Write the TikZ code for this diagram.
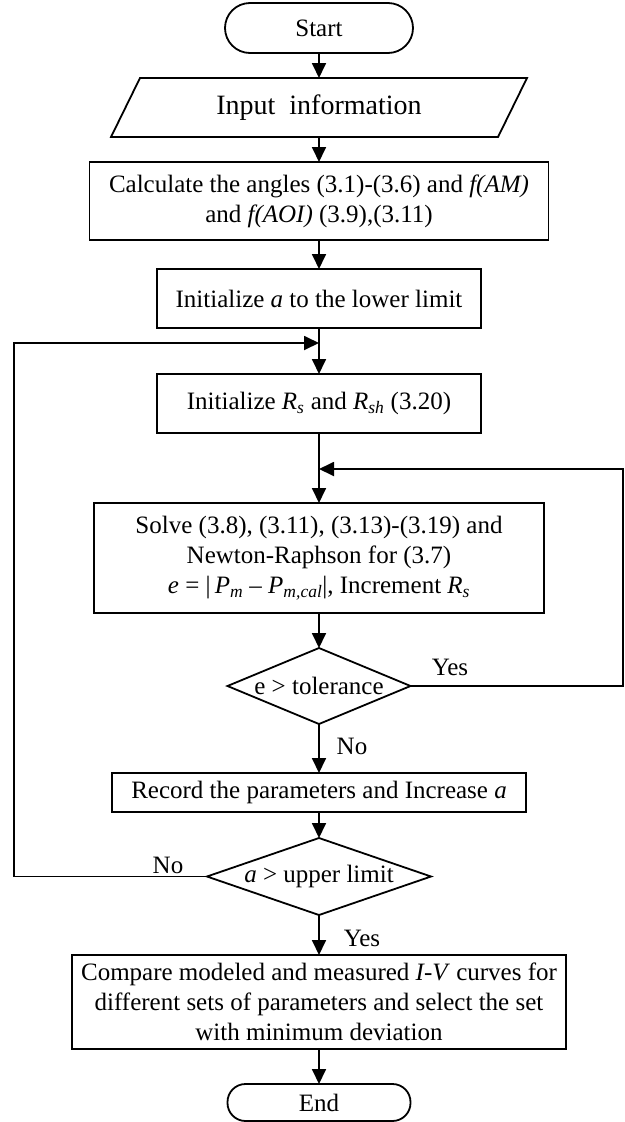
\documentclass[tikz,border=0pt]{standalone}
\usepackage{fontspec}
\setmainfont{Liberation Serif}
\usetikzlibrary{arrows.meta,shapes.geometric,calc}
\tikzset{
  every node/.style={inner sep=0pt, outer sep=0pt, font=\fontsize{25}{30}\selectfont},
  boxnode/.style={draw, line width=1.8pt, rectangle, align=center},
  termnode/.style={draw, line width=1.8pt, rectangle, align=center},
  decnode/.style={draw, line width=1.8pt, diamond},
  lbl/.style={font=\fontsize{25}{30}\selectfont},
  arr/.style={line width=1.8pt, -{Triangle[length=15pt,width=14pt]}},
  ln/.style={line width=1.8pt}
}
\begin{document}
\begin{tikzpicture}[x=1pt,y=-1pt]
\useasboundingbox (0,0) rectangle (624,1122);
% nodes
\node[termnode, minimum width=188pt, minimum height=50pt, rounded corners=25pt] (start) at (319,28) {Start};
\node[minimum width=416pt, minimum height=59pt, font=\fontsize{28}{32}\selectfont] (input) at (319,107.5) {Input\ \ information};
\draw[ln, line join=miter] (input.south west) -- ([xshift=-29pt]input.south east) -- (input.north east) -- ([xshift=29pt]input.north west) -- cycle;
\node[boxnode, minimum width=459pt, minimum height=78pt] (calc) at (319,201)
  {Calculate the angles (3.1)-(3.6) and \textit{f(AM)}\\and \textit{f(AOI)} (3.9),(3.11)};
\node[boxnode, minimum width=324pt, minimum height=59pt] (inita) at (319,298.5)
  {Initialize \textit{a} to the lower limit};
\node[boxnode, minimum width=324pt, minimum height=59pt] (initrs) at (319,403.5)
  {Initialize \textit{R}\textsubscript{\textit{s}} and \textit{R}\textsubscript{\textit{sh}} (3.20)};
\node[boxnode, minimum width=450pt, minimum height=110pt] (solve) at (319,558)
  {Solve (3.8), (3.11), (3.13)-(3.19) and\\Newton-Raphson for (3.7)\\\textit{e} = |\,\textit{P}\textsubscript{\textit{m}} – \textit{P}\textsubscript{\textit{m,cal}}|, Increment \textit{R}\textsubscript{\textit{s}}};
\node[decnode, minimum width=183pt, minimum height=76pt] (d1) at (319,686) {};
\node (d1t) at (d1) {e > tolerance};
\node[boxnode, minimum width=414pt, minimum height=39pt] (record) at (319,792.5)
  {Record the parameters and Increase \textit{a}};
\node[decnode, minimum width=224pt, minimum height=77pt] (d2) at (319,876.5) {};
\node (d2t) at (d2) {\textit{a} > upper limit};
\node[boxnode, minimum width=494pt, minimum height=94pt] (compare) at (319,1002)
  {Compare modeled and measured \textit{I-V} curves for\\different sets of parameters and select the set\\with minimum deviation};
\node[termnode, minimum width=183pt, minimum height=37pt, rounded corners=18pt] (end) at (319,1102.5) {End};
% labels
\node[lbl] (yes1) at (450,667) {Yes};
\node[lbl] (no1) at (352,746) {No};
\node[lbl] (no2) at (168,865) {No};
\node[lbl] (yes2) at (362,938) {Yes};
% join points
\coordinate (j1) at (319,343);
\coordinate (lc) at (14,343);
\coordinate (j2) at (319,469);
\coordinate (rc) at (623,469);
% connectors
\draw[arr] (start) -- (input);
\draw[arr] (input) -- (calc);
\draw[arr] (calc) -- (inita);
\draw[arr] (inita) -- (initrs);
\draw[arr] (initrs) -- (solve);
\draw[arr] (solve) -- (d1);
\draw[arr] (d1) -- (record);
\draw[arr] (record) -- (d2);
\draw[arr] (d2) -- (compare);
\draw[arr] (compare) -- (end);
\draw[arr, line join=miter] (d2.west) -| (lc) -- (j1);
\draw[arr, line join=miter] (d1.east) -| (rc) -- (j2);
\end{tikzpicture}
\end{document}
